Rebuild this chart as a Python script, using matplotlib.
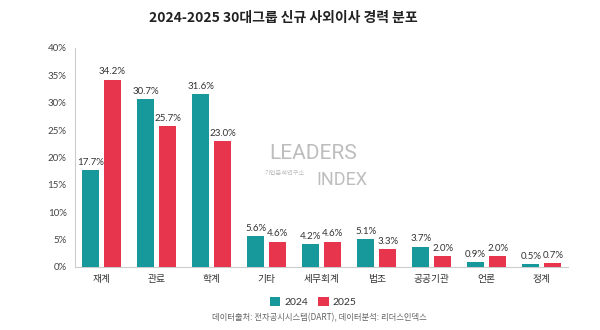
import matplotlib
matplotlib.use("Agg")
import matplotlib.pyplot as plt
import numpy as np

categories = ["재계", "관료", "학계", "기타", "세무회계", "법조", "공공기관", "언론", "정계"]
values_2024 = [17.7, 30.7, 31.6, 5.6, 4.2, 5.1, 3.7, 0.9, 0.5]
values_2025 = [34.2, 25.7, 23.0, 4.6, 4.6, 3.3, 2.0, 2.0, 0.7]
series_names = ["2024", "2025"]
yticks = [0, 5, 10, 15, 20, 25, 30, 35, 40]

FAM = ["Lato", "Noto Sans CJK KR", "DejaVu Sans"]
plt.rcParams["font.family"] = FAM

c24 = "#17999b"
c25 = "#e8354e"

fig = plt.figure(figsize=(6, 3.3), dpi=100)
ax = fig.add_axes([0.125, 0.191, 0.822, 0.664])

x = np.arange(len(categories))
w = 0.31
off = 0.2
b1 = ax.bar(x - off, values_2024, w, color=c24, label=series_names[0], zorder=3)
b2 = ax.bar(x + off, values_2025, w, color=c25, label=series_names[1], zorder=3)

for bars, vals in ((b1, values_2024), (b2, values_2025)):
    for r, v in zip(bars, vals):
        ax.text(r.get_x() + r.get_width() / 2, v + 0.6, f"{v:.1f}%", ha="center", va="bottom",
                fontsize=7, color="#333333", zorder=4)

ax.set_xlim(-0.48, len(categories) - 1 + 0.48)
ax.set_ylim(0, 40)
ax.set_yticks(yticks)
ax.set_yticklabels([f"{t}%" for t in yticks], fontsize=7, color="#444444")
ax.set_xticks(x)
ax.set_xticklabels(categories, fontsize=7, color="#333333", family=["Noto Sans CJK KR"])
ax.tick_params(axis="both", length=0)
ax.tick_params(axis="y", pad=6)
ax.tick_params(axis="x", pad=5)
for s in ("top", "right"):
    ax.spines[s].set_visible(False)
for s in ("left", "bottom"):
    ax.spines[s].set_color("#cccccc")
    ax.spines[s].set_linewidth(0.8)

# watermark
fig.text(0.522, 0.535, "LEADERS", fontsize=15, color="#bdbdbd", ha="center", va="center",
         family=["Roboto", "DejaVu Sans"], zorder=1)
fig.text(0.569, 0.455, "INDEX", fontsize=13, color="#bdbdbd", ha="center", va="center",
         family=["Roboto", "DejaVu Sans"], zorder=1)
fig.text(0.475, 0.476, "기업분석연구소", fontsize=4.5, color="#bdbdbd", ha="center", va="center",
         family=["Noto Sans CJK KR"], zorder=1)

fig.text(0.472, 0.945, "2024-2025 30대그룹 신규 사외이사 경력 분포", fontsize=10, fontweight="bold",
         color="#222222", ha="center", va="center", family=["Noto Sans CJK KR"])

leg = fig.legend(handles=[b1, b2], labels=series_names, loc="center", bbox_to_anchor=(0.522, 0.085),
                 ncol=2, frameon=False, fontsize=7.5, handlelength=1.0, handleheight=1.0,
                 handletextpad=0.4, columnspacing=1.0)
for t in leg.get_texts():
    t.set_color("#333333")

fig.text(0.532, 0.036, "데이터출처: 전자공시시스템(DART), 데이터분석: 리더스인덱스", fontsize=6,
         color="#666666", ha="center", va="center", family=["Noto Sans CJK KR"])

fig.savefig("out.png", dpi=100)
